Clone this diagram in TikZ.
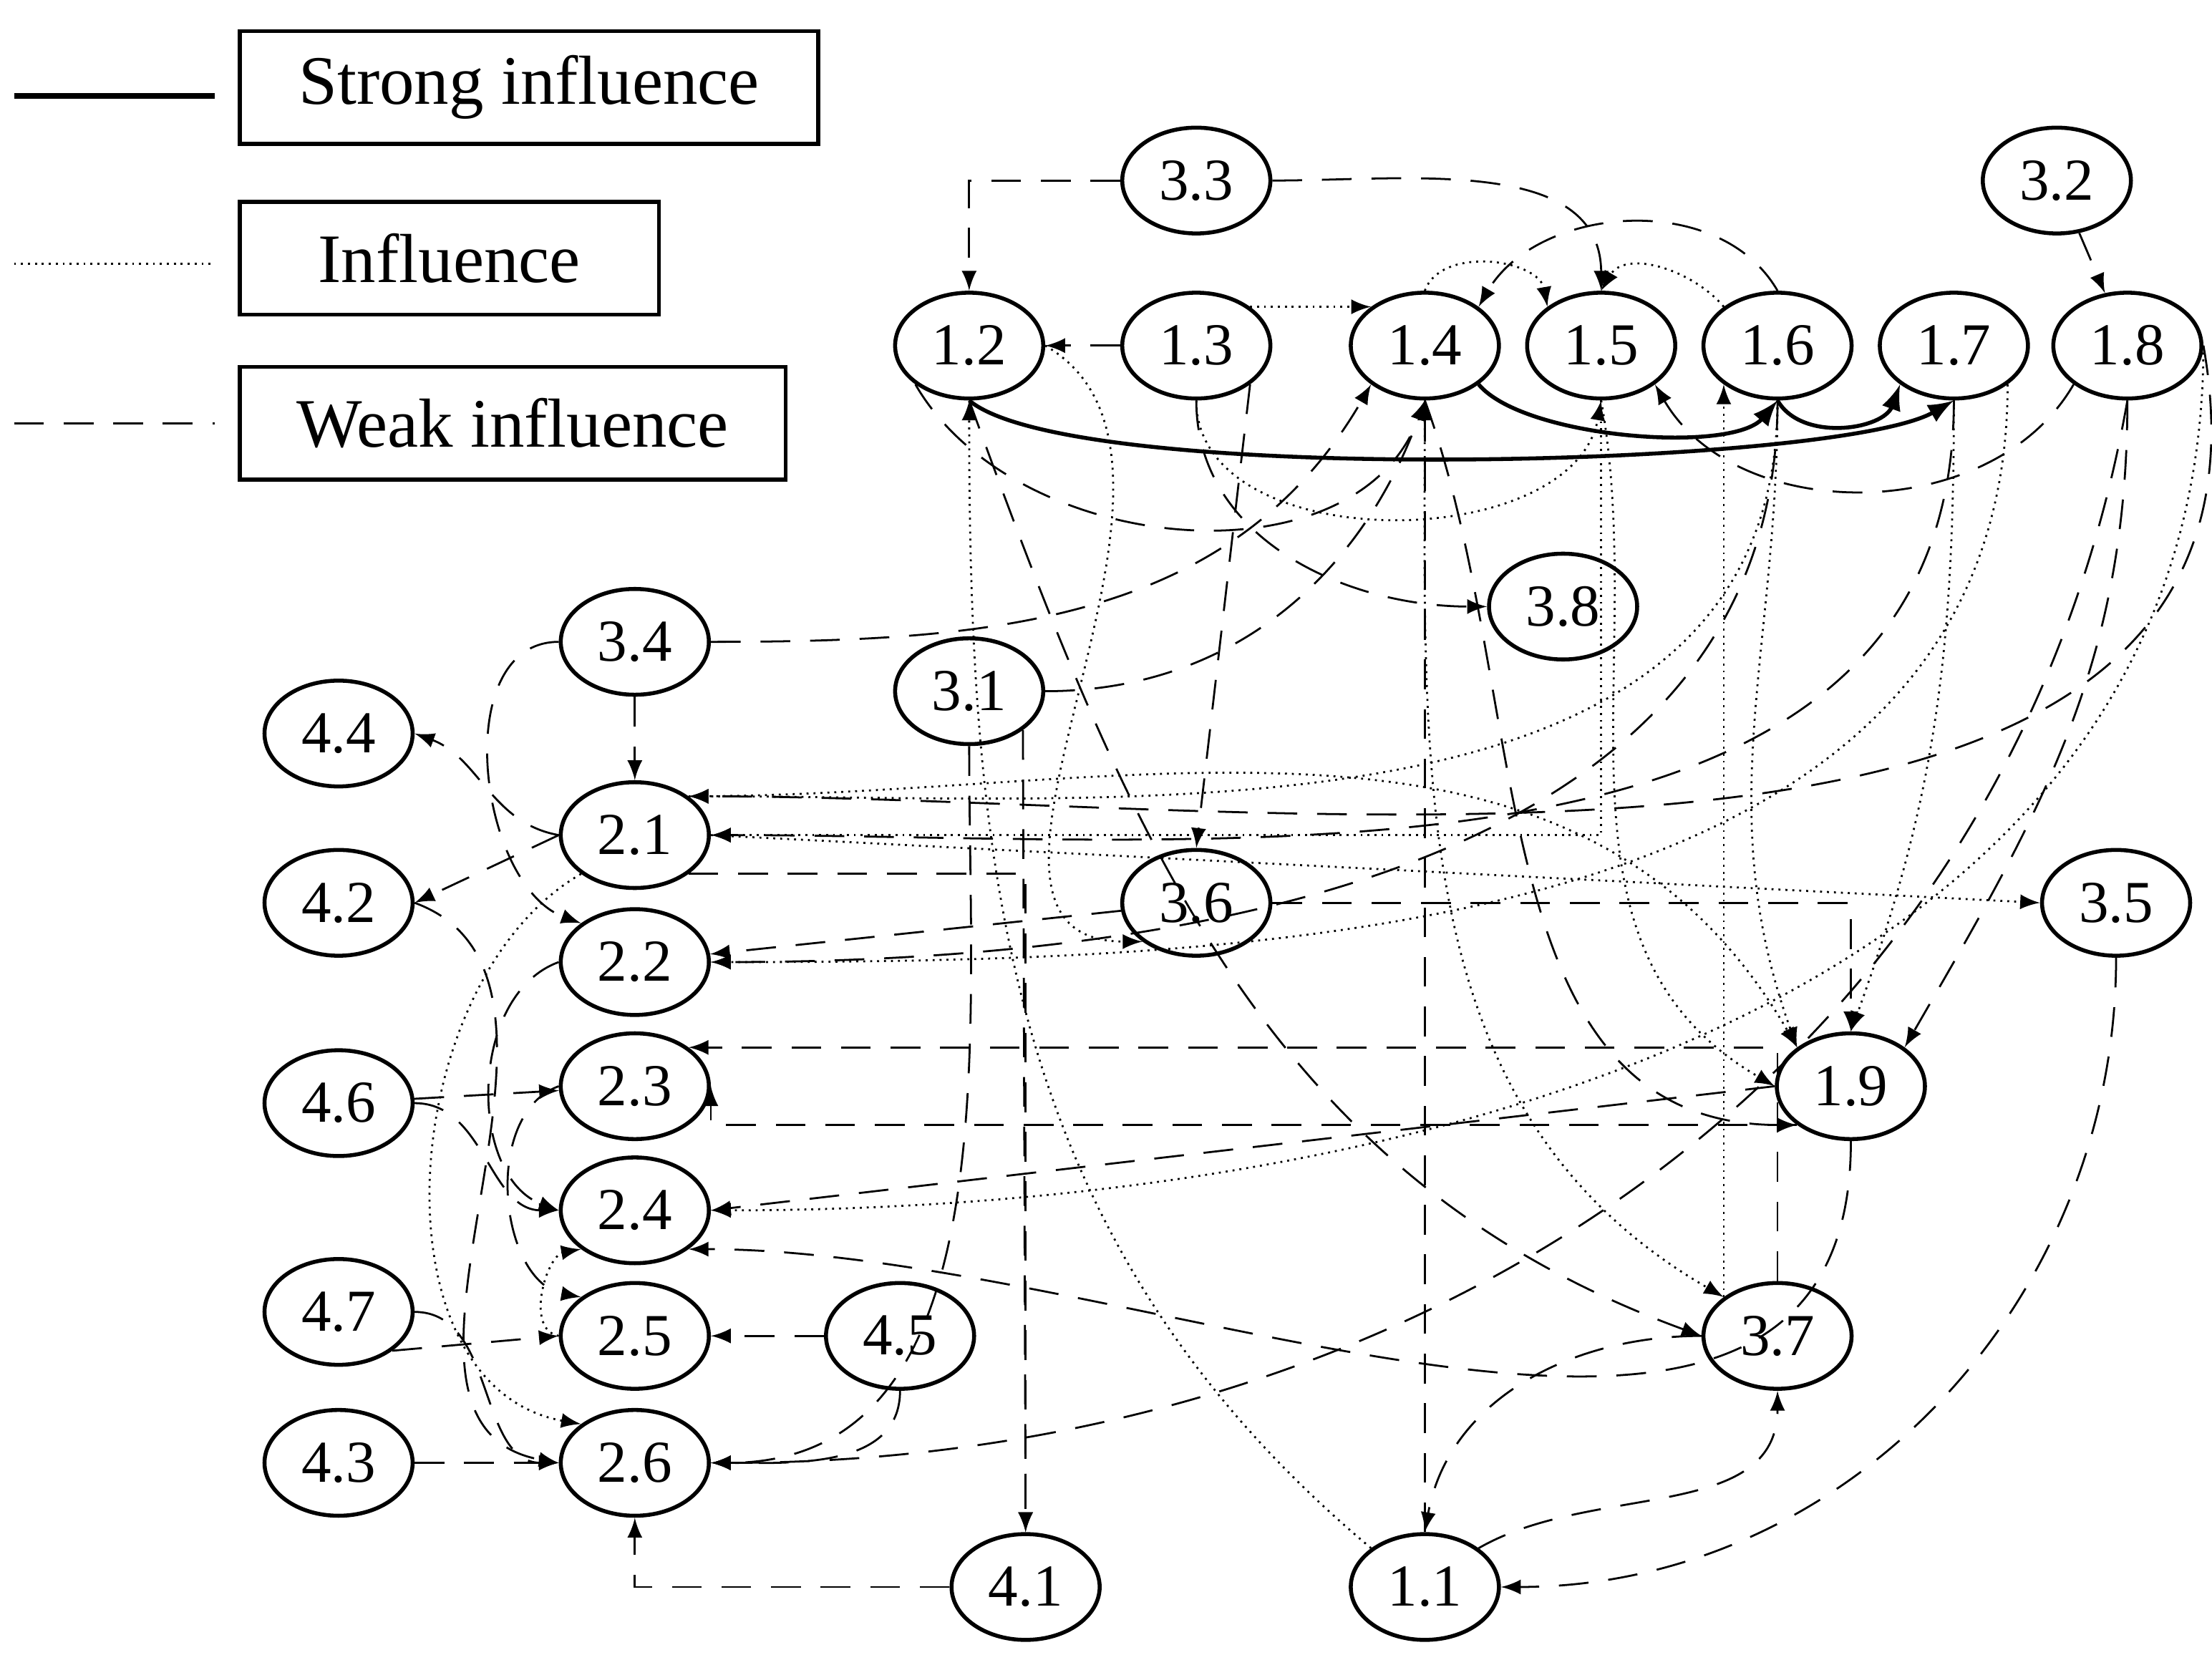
\documentclass[tikz,border=0pt]{standalone}
\usepackage{fontspec}
\setmainfont{Liberation Serif}
\usetikzlibrary{shapes.geometric}
\tikzset{
  nd/.style={ellipse,draw,thick,minimum width=1.05cm,minimum height=0.75cm,inner sep=0pt,font=\fontsize{12}{12}\selectfont},
  lg/.style={draw,thick,minimum height=0.8cm,font=\fontsize{14}{15}\selectfont},
  strong/.style={thick,-latex},
  infl/.style={densely dotted,-latex},
  weak/.style={dash pattern=on 6pt off 4pt,-latex}
}
\begin{document}
\begin{tikzpicture}
\useasboundingbox (0,0) rectangle (15.68,-11.73);

% legend
\node[lg,minimum width=4.1cm] (ls) at (3.75,-0.62) {Strong influence};
\node[lg,minimum width=2.97cm] (li) at (3.185,-1.83) {Influence};
\node[lg,minimum width=3.87cm] (lw) at (3.635,-3.0) {Weak influence};
\draw[very thick] (0.1,-0.68) -- (1.52,-0.68);
\draw[densely dotted] (0.1,-1.87) -- (1.52,-1.87);
\draw[dash pattern=on 6pt off 4pt] (0.1,-3.0) -- (1.52,-3.0);

% nodes
\node[nd] (n12) at (6.87,-2.45) {1.2};
\node[nd] (n13) at (8.48,-2.45) {1.3};
\node[nd] (n14) at (10.10,-2.45) {1.4};
\node[nd] (n15) at (11.35,-2.45) {1.5};
\node[nd] (n16) at (12.60,-2.45) {1.6};
\node[nd] (n17) at (13.85,-2.45) {1.7};
\node[nd] (n18) at (15.08,-2.45) {1.8};
\node[nd] (n33) at (8.48,-1.28) {3.3};
\node[nd] (n32) at (14.58,-1.28) {3.2};
\node[nd] (n38) at (11.08,-4.30) {3.8};
\node[nd] (n34) at (4.50,-4.55) {3.4};
\node[nd] (n31) at (6.87,-4.90) {3.1};
\node[nd] (n44) at (2.40,-5.20) {4.4};
\node[nd] (n21) at (4.50,-5.92) {2.1};
\node[nd] (n42) at (2.40,-6.40) {4.2};
\node[nd] (n36) at (8.48,-6.40) {3.6};
\node[nd] (n35) at (15.00,-6.40) {3.5};
\node[nd] (n22) at (4.50,-6.82) {2.2};
\node[nd] (n23) at (4.50,-7.70) {2.3};
\node[nd] (n46) at (2.40,-7.82) {4.6};
\node[nd] (n19) at (13.12,-7.70) {1.9};
\node[nd] (n24) at (4.50,-8.58) {2.4};
\node[nd] (n47) at (2.40,-9.30) {4.7};
\node[nd] (n25) at (4.50,-9.47) {2.5};
\node[nd] (n45) at (6.38,-9.47) {4.5};
\node[nd] (n37) at (12.60,-9.47) {3.7};
\node[nd] (n26) at (4.50,-10.37) {2.6};
\node[nd] (n43) at (2.40,-10.37) {4.3};
\node[nd] (n41) at (7.27,-11.25) {4.1};
\node[nd] (n11) at (10.10,-11.25) {1.1};

% top row
\draw[weak] (n33) -| (n12);
\draw[weak] (n33.east) to[out=0,in=90] (n15.north);
\draw[weak] (n32) -- (n18);
\draw[weak] (n13) -- (n12);
\draw[infl] (n13.north east) -- (n14.north west);
\draw[weak] (n16.north) to[out=120,in=60] (n14.north east);
\draw[infl] (n16.north west) to[out=130,in=60] (n15.north);
\draw[infl] (n14.north) to[out=70,in=100] (n15.north west);
\draw[strong] (n12.south) to[out=-40,in=-150,looseness=0.35] (n17.south);
\draw[strong] (n14.south east) to[out=-50,in=-130,looseness=0.6] (n16.south);
\draw[strong] (n16.south) to[out=-60,in=-110] (n17.south west);
\draw[weak] (n18.south west) to[out=-120,in=-60] (n15.south east);
\draw[weak] (n12.south west) to[out=-60,in=-110] (n14.south);
\draw[infl] (n13.south) to[out=-90,in=-100] (n15.south);

% to 1.9
\draw[weak] (n18.south) to[out=-90,in=60] (n19.north east);
\draw[infl] (n17.south) to[out=-90,in=70] (n19.north);
\draw[infl] (n16.south) to[out=-90,in=110] (n19.north west);
\draw[infl] (n15.south) to[out=-80,in=150] (n19.west);
\draw[weak] (n14.south) to[out=-70,in=180] (n19.south west);
\draw[infl] (n21.north east) to[out=0,in=120] (n19.north west);
\draw[weak] (n36.east) -| (n19.north);

% 3.x
\draw[weak] (n13.south) to[out=-90,in=180] (n38.west);
\draw[weak] (n13.south east) -- (n36.north);
\draw[weak] (n34.east) to[out=0,in=-120] (n14.south west);
\draw[weak] (n34) -- (n21);
\draw[weak] (n34.west) to[out=180,in=160] (n22.north west);
\draw[weak] (n31.east) to[out=0,in=-110] (n14.south);
\draw[weak] (n31.south) to[out=-90,in=0] (n26.east);
\draw[weak] (n31.south east) -- (n41.north);
\draw[weak] (n12.south) to[out=-70,in=160] (n37.west);
\draw[infl] (n11.north west) to[out=140,in=-90] (n12.south);
\draw[infl] (n21.east) -- (n35.west);
\draw[weak] (n35.south) to[out=-90,in=0] (n11.east);
\draw[weak] (n11.north east) to[out=30,in=-90] (n37.south);
\draw[weak] (n37.west) to[out=180,in=80] (n11.north);
\draw[weak] (n11.north) -- (n14.south);
\draw[infl] (n37.north west) -- (n16.south west);
\draw[infl] (n14.south) to[out=-90,in=150] (n37.north west);
\draw[infl] (n12.east) to[out=-30,in=180] (n36.south west);

% into 2.x from top-right
\draw[infl] (n15.south) |- (n21.east);
\draw[infl] (n16.south) to[out=-90,in=0] (n21.north east);
\draw[weak] (n17.south) to[out=-90,in=0] (n21.east);
\draw[weak] (n18.east) to[out=-80,in=0] (n21.north east);
\draw[infl] (n18.east) to[out=-90,in=0] (n24.east);
\draw[infl] (n17.south east) to[out=-90,in=0] (n22.east);
\draw[weak] (n16.south) to[out=-90,in=0] (n22.east);
\draw[weak] (n19.west) -- (n24.east);
\draw[weak] (n19.south west) -| (n23.east);
\draw[weak] (n19.south) to[out=-90,in=0] (n24.south east);
\draw[weak] (n18.south) to[out=-100,in=0] (n26.east);
\draw[weak] (n37.north) |- (n23.north east);
\draw[weak] (n36) -- (n22);
\draw[weak] (n21.south east) -| (n41.north);
\draw[weak] (n21.west) -- (n42.east);
\draw[weak] (n21.west) to[out=170,in=-20] (n44.east);

% 4.x into 2.x
\draw[weak] (n46) -- (n23);
\draw[weak] (n46.east) to[out=0,in=180] (n24.west);
\draw[weak] (n47.east) to[out=0,in=180] (n26.west);
\draw[weak] (n47.south east) -- (n25.west);
\draw[weak] (n43) -- (n26);
\draw[weak] (n42.east) to[out=-20,in=170] (n26.west);
\draw[weak] (n45) -- (n25);
\draw[weak] (n45.south) to[out=-90,in=0] (n26.east);
\draw[weak] (n41.west) -| (n26.south);
\draw[infl] (n21.south west) to[out=-150,in=170] (n26.north west);
\draw[weak] (n22.west) to[out=-160,in=160] (n24.west);
\draw[weak] (n23.west) to[out=-160,in=170] (n25.north west);
\draw[infl] (n25.west) to[out=170,in=-170] (n24.south west);
\end{tikzpicture}
\end{document}
